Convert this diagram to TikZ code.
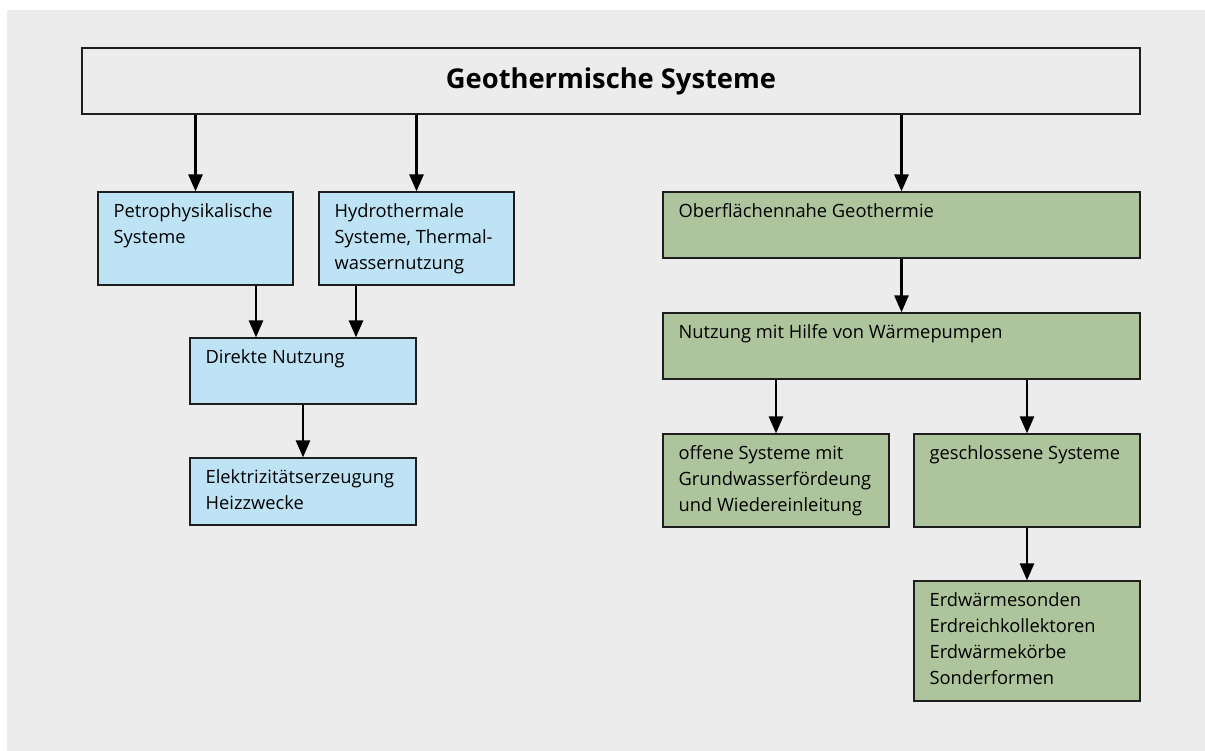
\documentclass[tikz,border=0pt]{standalone}
\usepackage{fontspec}
\setmainfont{Open Sans}
\usepackage{tikz}
\usetikzlibrary{arrows.meta}
\usetikzlibrary{positioning}
\definecolor{hgrau}{HTML}{EBECEB}
\definecolor{hblau}{HTML}{BEE3F5}
\definecolor{hgruen}{HTML}{ADC49C}
\definecolor{rahmen}{HTML}{1E1E1E}

\begin{document}
\begin{tikzpicture} [x=1pt, y=-1pt,
                kasten/.style = {draw=rahmen, line width=1.2pt, inner sep=0pt},
                blau/.style = {kasten, fill=hblau},
                gruen/.style = {kasten, fill=hgruen},
                txt/.style = {anchor=north west, align=left, inner sep=0pt, xshift=16pt, yshift=-12pt,
                              font=\fontsize{18.3}{26}\selectfont},
                pfeil/.style = {line width=2.6pt, -{Triangle[length=17pt,width=14pt]}}
            ]
            \useasboundingbox (0,0) rectangle (1205,751);
            \fill[hgrau] (7,10) rectangle (1205,751);
            % Kopf
            \node (titel) at (611,81) [kasten, fill=hgrau, minimum width=1058pt, minimum height=66pt,
                  font=\fontsize{27.3}{31}\bfseries] {Geothermische Systeme};
            % linke Seite
            \node (petro) at (195.5,238.5) [blau, minimum width=195pt, minimum height=93pt,
                  label={[txt]north west:Petrophysikalische\\Systeme}] {};
            \node (hydro) at (416.5,238.5) [blau, minimum width=195pt, minimum height=93pt,
                  label={[txt]north west:Hydrothermale\\Systeme, Thermal-\\wassernutzung}] {};
            \node (direkt) at (303,371) [blau, minimum width=226pt, minimum height=66pt,
                  label={[txt]north west:Direkte Nutzung}] {};
            \node (elektro) at (303,491.5) [blau, minimum width=226pt, minimum height=67pt,
                  label={[txt]north west:Elektrizitätserzeugung\\Heizzwecke}] {};
            % rechte Seite
            \node (oberfl) at (901.5,225) [gruen, minimum width=477pt, minimum height=66pt,
                  label={[txt]north west:Oberflächennahe Geothermie}] {};
            \node (pumpen) at (901.5,346) [gruen, minimum width=477pt, minimum height=66pt,
                  label={[txt]north west:Nutzung mit Hilfe von Wärmepumpen}] {};
            \node (offen) at (776,480.5) [gruen, minimum width=226pt, minimum height=93pt,
                  label={[txt]north west:offene Systeme mit\\Grundwasserfördeung\\und Wiedereinleitung}] {};
            \node (geschl) at (1027,480.5) [gruen, minimum width=226pt, minimum height=93pt,
                  label={[txt]north west:geschlossene Systeme}] {};
            \node (sonden) at (1027,641) [gruen, minimum width=226pt, minimum height=120pt,
                  label={[txt]north west:Erdwärmesonden\\Erdreichkollektoren\\Erdwärmekörbe\\Sonderformen}] {};
            % Pfeile
            \draw [pfeil] (titel.south -| petro.north) -- (petro.north);
            \draw [pfeil] (titel.south -| hydro.north) -- (hydro.north);
            \draw [pfeil] (titel.south -| oberfl.north) -- (oberfl.north);
            \draw [pfeil] ([xshift=-47pt] direkt.north |- petro.south) -- ([xshift=-47pt] direkt.north);
            \draw [pfeil] ([xshift=53pt] direkt.north |- hydro.south) -- ([xshift=53pt] direkt.north);
            \draw [pfeil] (direkt) -- (elektro);
            \draw [pfeil] (oberfl) -- (pumpen);
            \draw [pfeil] (pumpen.south -| offen.north) -- (offen.north);
            \draw [pfeil] (pumpen.south -| geschl.north) -- (geschl.north);
            \draw [pfeil] (geschl) -- (sonden);
        \end{tikzpicture}
\end{document}
